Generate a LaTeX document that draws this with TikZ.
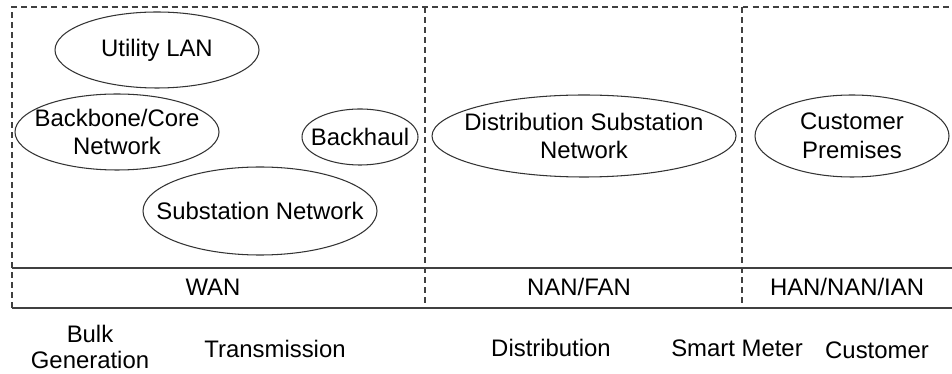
\documentclass[tikz,border=0pt]{standalone}
\usepackage{fontspec}
\setmainfont{Liberation Sans}
\usepackage{xcolor}
\usepackage{tikz}

\begin{document}
\begin{tikzpicture}[x=0.02cm, y=-0.02cm,
    lbl/.style={font=\fontsize{13.6}{16.4}\selectfont, align=center, inner sep=0pt},
    zone/.style={draw=black!75, line width=0.8pt, dash pattern=on 3.4pt off 2.3pt},
    rowline/.style={draw=black!75, line width=0.9pt},
    cloud/.style={draw=black!80, line width=0.6pt}]
        \useasboundingbox (0,0) rectangle (952,374);
        % dashed frame and the three zones
        \draw[zone] (12,308) -- (12,7) -- (952,7);
        \draw[zone] (425,7) -- (425,308);
        \draw[zone] (742,7) -- (742,308);
        \draw[rowline] (12,268) -- (952,268);
        \draw[rowline] (12,308) -- (952,308);
        % network domains
        \node[lbl] (ulan) at (157,50) {Utility LAN};
        \draw[cloud] (ulan.center) ellipse [x radius=102, y radius=38];
        \node[lbl] (core) at (117,132) {Backbone/Core\\Network};
        \draw[cloud] (core.center) ellipse [x radius=102, y radius=38];
        \node[lbl] (bhaul) at (360,137) {Backhaul};
        \draw[cloud] (bhaul.center) ellipse [x radius=58, y radius=28];
        \node[lbl] (subnet) at (260,211) {Substation Network};
        \draw[cloud] (subnet.center) ellipse [x radius=117, y radius=44];
        \node[lbl] (dsub) at (584,136) {Distribution Substation\\Network};
        \draw[cloud] (dsub.center) ellipse [x radius=152, y radius=41];
        \node[lbl] (cprem) at (852,136) {Customer\\Premises};
        \draw[cloud] (cprem.center) ellipse [x radius=97, y radius=41];
        % network types
        \node[lbl] (wan) at (213,287) {WAN};
        \node[lbl] (nan) at (579,287) {NAN/FAN};
        \node[lbl] (han) at (847,287) {HAN/NAN/IAN};
        % grid domains
        \node[lbl, font=\fontsize{13.6}{14.4}\selectfont] (bulk) at (90,347) {Bulk\\Generation};
        \node[lbl] (trans) at (275,349) {Transmission};
        \node[lbl] (dist) at (551,348) {Distribution};
        \node[lbl] (meter) at (737,348) {Smart Meter};
        \node[lbl] (cust) at (877,350) {Customer};
    \end{tikzpicture}
\end{document}
